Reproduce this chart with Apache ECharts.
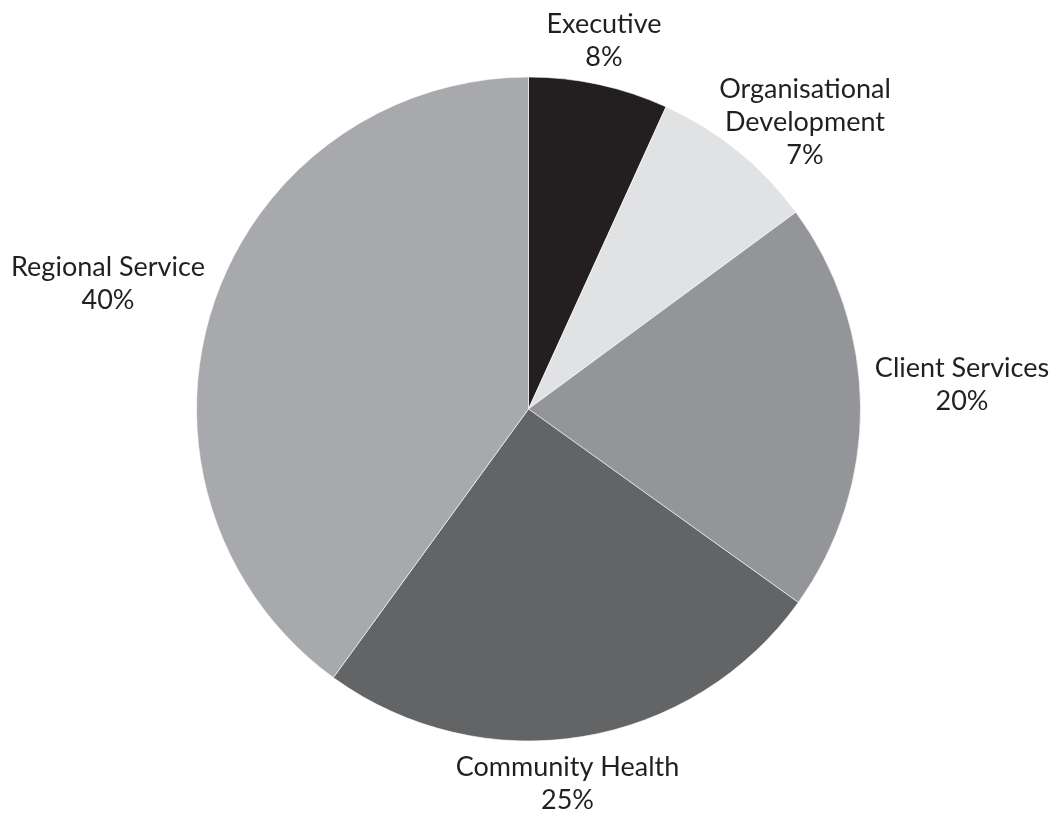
<!DOCTYPE html>
<html>
<head>
<meta charset="utf-8">
<script src="https://cdn.jsdelivr.net/npm/echarts@6/dist/echarts.min.js"></script>
<style>
html,body{margin:0;padding:0;background:#fff;}
#c{width:1057px;height:813px;}
</style>
</head>
<body>
<div id="c"></div>
<script>
const categories = ["Executive", "Organisational\nDevelopment", "Client Services", "Community Health", "Regional Service"];
const values = [6.8, 8.1, 20, 25.1, 40];
const percentLabels = ["8%", "7%", "20%", "25%", "40%"];
const colors = ["#231f20", "#e1e2e4", "#939598", "#636466", "#a8a9ac"];

// label anchor positions (style/layout only)
const labelAnchors = [[604, 40.5], [805, 122], [962, 384.5], [567.5, 783.5], [108, 283.5]];

const chart = echarts.init(document.getElementById('c'));
chart.setOption({
  animation: false,
  series: [{
    type: 'pie',
    center: [528.5, 409],
    radius: 332,
    startAngle: 90,
    clockwise: true,
    data: categories.map((n, i) => ({ name: n, value: values[i], itemStyle: { color: colors[i] } })),
    itemStyle: { borderColor: '#ffffff', borderWidth: 0.6 },
    label: {
      show: true,
      position: 'outside',
      width: 260,
      overflow: 'none',
      formatter: p => p.name.split('\n').map(l => '{c|' + l + '}').join('\n') + '\n{c|' + percentLabels[p.dataIndex] + '}',
      rich: { c: { align: 'center', fontFamily: 'Lato', fontSize: 27, color: '#231f20', lineHeight: 33 } },
      fontFamily: 'Lato', fontSize: 27, color: '#231f20', lineHeight: 33
    },
    labelLine: { show: false, length: 20, length2: 0 },
    labelLayout: p => ({ x: labelAnchors[p.dataIndex][0], y: labelAnchors[p.dataIndex][1], align: 'center', verticalAlign: 'middle' }),
    emphasis: { disabled: true }
  }]
});
</script>
</body>
</html>
